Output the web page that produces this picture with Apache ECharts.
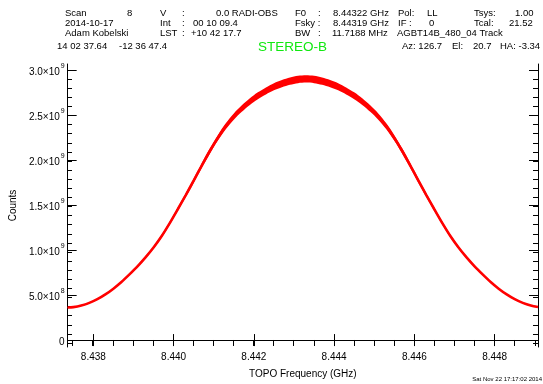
<!DOCTYPE html>
<html>
<head>
<meta charset="utf-8">
<script src="https://cdn.jsdelivr.net/npm/echarts@6/dist/echarts.min.js"></script>
<style>
  html, body { margin: 0; padding: 0; background: #fff; }
  #chart { width: 543px; height: 384px; }
</style>
</head>
<body>
<div id="chart"></div>
<script>
// Spectrum samples: topocentric frequency (GHz) and detector counts (units of 10^9)
const freqGHz = [
  8.43736, 8.4375, 8.4377, 8.4379, 8.4381, 8.4383, 8.4385, 8.4387, 8.4389, 8.4391,
  8.4393, 8.4395, 8.4397, 8.4399, 8.4401, 8.4403, 8.4405, 8.4407, 8.4409, 8.4411,
  8.4413, 8.4415, 8.4417, 8.4419, 8.4421, 8.4423, 8.4425, 8.4427, 8.4429, 8.4431,
  8.4433, 8.4435, 8.4437, 8.4439, 8.4441, 8.4443, 8.4445, 8.4447, 8.4449, 8.4451,
  8.4453, 8.4455, 8.4457, 8.4459, 8.4461, 8.4463, 8.4465, 8.4467, 8.4469, 8.4471,
  8.4473, 8.4475, 8.4477, 8.4479, 8.4481, 8.4483, 8.4485, 8.4487, 8.4489, 8.44908
];
const counts = [
  0.362, 0.366, 0.384, 0.413, 0.454, 0.507, 0.571, 0.645, 0.729, 0.818,
  0.918, 1.028, 1.153, 1.296, 1.450, 1.608, 1.770, 1.936, 2.097, 2.244,
  2.374, 2.482, 2.571, 2.648, 2.713, 2.767, 2.813, 2.848, 2.875, 2.894,
  2.900, 2.894, 2.875, 2.848, 2.813, 2.767, 2.713, 2.648, 2.571, 2.482,
  2.374, 2.244, 2.097, 1.936, 1.770, 1.608, 1.450, 1.296, 1.153, 1.028,
  0.918, 0.818, 0.729, 0.645, 0.571, 0.507, 0.454, 0.413, 0.384, 0.368
];
// half-width of the noise scatter around each sample (same units)
const noise = [
  0.005, 0.005, 0.0054, 0.0058, 0.0064, 0.0071, 0.008, 0.009, 0.0102, 0.0115,
  0.0129, 0.0144, 0.0161, 0.0181, 0.0203, 0.0225, 0.0248, 0.0271, 0.0294, 0.0314,
  0.0332, 0.0347, 0.036, 0.0371, 0.038, 0.0387, 0.0394, 0.0399, 0.0403, 0.0405,
  0.0406, 0.0405, 0.0403, 0.0399, 0.0394, 0.0387, 0.038, 0.0371, 0.036, 0.0347,
  0.0332, 0.0314, 0.0294, 0.0271, 0.0248, 0.0225, 0.0203, 0.0181, 0.0161, 0.0144,
  0.0129, 0.0115, 0.0102, 0.009, 0.008, 0.0071, 0.0064, 0.0058, 0.0054, 0.005
];

// Axis ranges and ticks
const xRange = [8.43736, 8.44908];
const yRange = [-0.077, 3.066];
const xMajor = [8.438, 8.440, 8.442, 8.444, 8.446, 8.448];
const xMinor = [8.4375, 8.4380, 8.4385, 8.4390, 8.4395, 8.4400, 8.4405, 8.4410, 8.4415, 8.4420, 8.4425,
                8.4430, 8.4435, 8.4440, 8.4445, 8.4450, 8.4455, 8.4460, 8.4465, 8.4470, 8.4475, 8.4480,
                8.4485, 8.4490];
const yMajor = [0, 0.5, 1.0, 1.5, 2.0, 2.5, 3.0];
const yMinor = [0, 0.1, 0.2, 0.3, 0.4, 0.5, 0.6, 0.7, 0.8, 0.9, 1.0, 1.1, 1.2, 1.3, 1.4, 1.5,
                1.6, 1.7, 1.8, 1.9, 2.0, 2.1, 2.2, 2.3, 2.4, 2.5, 2.6, 2.7, 2.8, 2.9, 3.0];
const yTickText = ['0', '5.0×10|8', '1.0×10|9', '1.5×10|9', '2.0×10|9', '2.5×10|9', '3.0×10|9'];

// Observation header
const headerRows = [
  [[65, 'Scan'], [127, '8'], [160, 'V'], [182, ':'], [216, '0.0 RADI-OBS'], [295, 'F0'], [318, ':'],
   [333, '8.44322 GHz'], [398, 'Pol:'], [427, 'LL'], [474, 'Tsys:'], [515, '1.00']],
  [[65, '2014-10-17'], [160, 'Int'], [182, ':'], [193, '00 10 09.4'], [295, 'Fsky :'],
   [333, '8.44319 GHz'], [398, 'IF :'], [429, '0'], [474, 'Tcal:'], [509, '21.52']],
  [[65, 'Adam Kobelski'], [160, 'LST'], [182, ':'], [191, '+10 42 17.7'], [295, 'BW'], [318, ':'],
   [332, '11.7188 MHz'], [397, 'AGBT14B_480_04 Track']],
  [[57, '14 02 37.64'], [119, '-12 36 47.4'], [402, 'Az: 126.7'], [452, 'El:'], [473, '20.7'], [500, 'HA: -3.34']]
];
const headerY = [13, 23.5, 33.5, 46];
const sourceName = 'STEREO-B';
const stampText = 'Sat Nov 22 17:17:02 2014';

const FONT = '"Liberation Sans", Arial, sans-serif';
const grid = { left: 67, right: 5, top: 64, bottom: 34 };

const graphics = [];
headerRows.forEach((row, r) => {
  row.forEach(([x, t]) => {
    graphics.push({
      type: 'text', x: x, y: headerY[r], silent: true,
      style: { text: t, font: '9.5px ' + FONT, fill: '#000', textAlign: 'left', textVerticalAlign: 'middle' }
    });
  });
});
graphics.push({
  type: 'text', x: 258, y: 47, silent: true,
  style: { text: sourceName, font: '13.5px ' + FONT, fill: '#11e811', textAlign: 'left', textVerticalAlign: 'middle' }
});
graphics.push({
  type: 'text', x: 542, y: 379, silent: true,
  style: { text: stampText, font: '6px ' + FONT, fill: '#000', textAlign: 'right', textVerticalAlign: 'middle' }
});

const axisLineStyle = { show: true, lineStyle: { color: '#000', width: 1 } };

function xAxisDef(gridIndex, position, ticks, len, labels) {
  return {
    type: 'value', gridIndex, position, min: xRange[0], max: xRange[1],
    axisLine: gridIndex === 0 ? axisLineStyle : { show: false },
    axisTick: { show: true, inside: true, length: len, customValues: ticks, lineStyle: { color: '#000', width: 1 } },
    axisLabel: labels ? {
      show: true, customValues: xMajor, margin: 5, color: '#000', fontSize: 10, fontFamily: FONT,
      formatter: v => v.toFixed(3)
    } : { show: false },
    splitLine: { show: false },
    name: labels ? 'TOPO Frequency (GHz)' : '',
    nameLocation: 'middle', nameGap: 22,
    nameTextStyle: { color: '#000', fontSize: 10, fontFamily: FONT }
  };
}

function yAxisDef(gridIndex, position, ticks, len, labels) {
  return {
    type: 'value', gridIndex, position, min: yRange[0], max: yRange[1],
    axisLine: gridIndex === 0 ? axisLineStyle : { show: false },
    axisTick: { show: true, inside: true, length: len, customValues: ticks, lineStyle: { color: '#000', width: 1 } },
    axisLabel: labels ? {
      show: true, customValues: yMajor, margin: 3, color: '#000', fontSize: 10, fontFamily: FONT,
      formatter: v => {
        const t = yTickText[yMajor.indexOf(v)] || '';
        const parts = t.split('|');
        return parts.length > 1 ? '{m|' + parts[0] + '}{s|' + parts[1] + '}' : '{m|' + parts[0] + '}';
      },
      rich: {
        m: { fontSize: 10, fontFamily: FONT, color: '#000', lineHeight: 14, verticalAlign: 'bottom' },
        s: { fontSize: 7, fontFamily: FONT, color: '#000', lineHeight: 14, verticalAlign: 'top', padding: [0, 0, 0, 1] }
      }
    } : { show: false },
    splitLine: { show: false },
    name: labels ? 'Counts' : '',
    nameLocation: 'middle', nameGap: 45, nameRotate: 90,
    nameTextStyle: { color: '#000', fontSize: 10, fontFamily: FONT }
  };
}

const centre = freqGHz.map((f, i) => [f, counts[i]]);

// Noise envelope as one filled polygon (upper edge, then lower edge backwards)
function renderBand(params, api) {
  if (params.dataIndex !== 0) return null;
  const upper = freqGHz.map((f, i) => api.coord([f, counts[i] + noise[i]]));
  const lower = freqGHz.map((f, i) => api.coord([f, counts[i] - noise[i]])).reverse();
  return {
    type: 'polygon',
    shape: { points: upper.concat(lower), smooth: 0.3 },
    style: { fill: '#ff0000', stroke: null }
  };
}

const chart = echarts.init(document.getElementById('chart'), null, { renderer: 'canvas' });
chart.setOption({
  backgroundColor: '#fff',
  animation: false,
  grid: [Object.assign({}, grid), Object.assign({}, grid)],
  xAxis: [
    xAxisDef(0, 'bottom', xMajor, 6, true),
    xAxisDef(0, 'top', xMajor, 6, false),
    xAxisDef(1, 'bottom', xMinor, 3, false),
    xAxisDef(1, 'top', xMinor, 3, false)
  ],
  yAxis: [
    yAxisDef(0, 'left', yMajor, 9, true),
    yAxisDef(0, 'right', yMajor, 9, false),
    yAxisDef(1, 'left', yMinor, 5, false),
    yAxisDef(1, 'right', yMinor, 5, false)
  ],
  series: [
    {
      type: 'custom', xAxisIndex: 0, yAxisIndex: 0, coordinateSystem: 'cartesian2d',
      data: [centre[0]], encode: { x: 0, y: 1 }, renderItem: renderBand, silent: true, clip: true
    },
    {
      type: 'line', xAxisIndex: 0, yAxisIndex: 0, data: centre,
      smooth: 0.3, symbol: 'none', lineStyle: { color: '#ff0000', width: 2.6 }, silent: true
    }
  ],
  graphic: graphics
});
</script>
</body>
</html>
